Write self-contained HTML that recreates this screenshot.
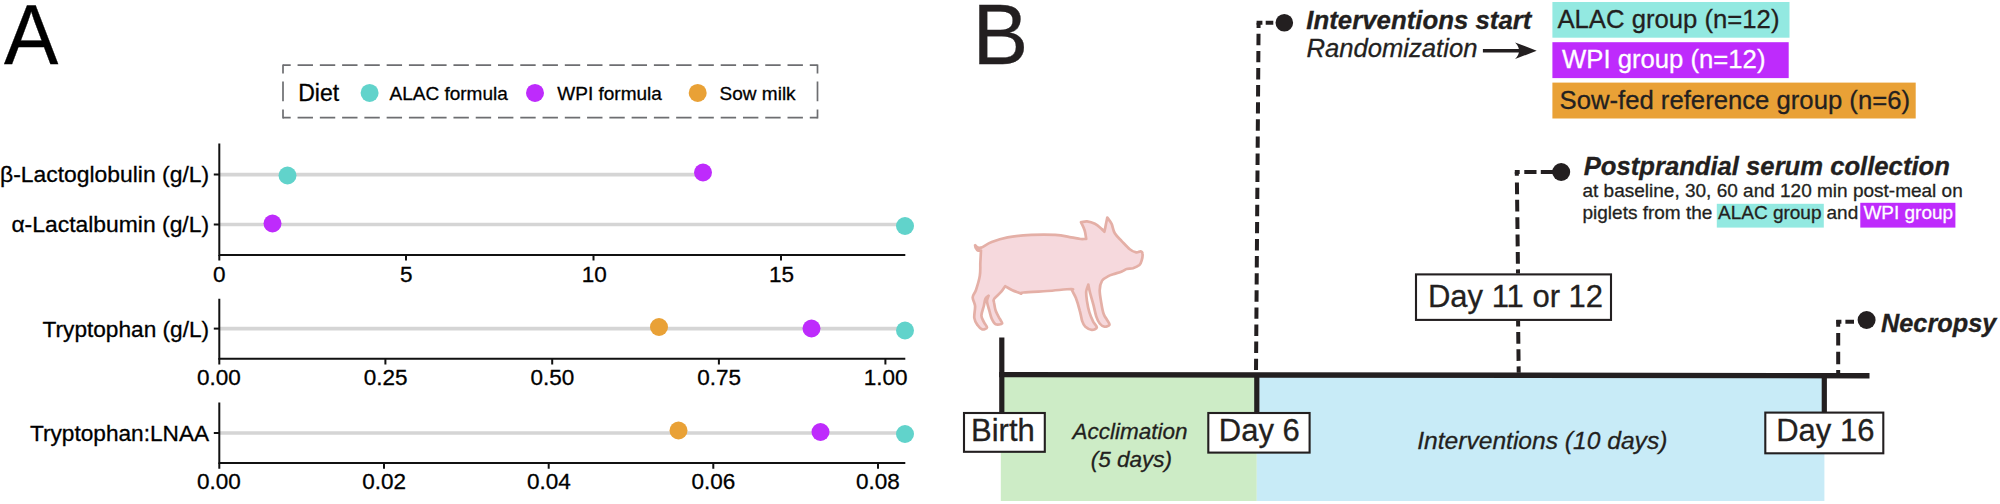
<!DOCTYPE html>
<html lang="en">
<head>
<meta charset="utf-8">
<title>Figure: diet composition and study design</title>
<style>
html,body{margin:0;padding:0;background:#fff;}
body{width:2000px;height:504px;overflow:hidden;}
svg{display:block;}
text{font-family:"Liberation Sans",Arial,Helvetica,sans-serif;fill:#231f20;stroke:#231f20;stroke-width:0.3px;}
#panelA text{fill:#000;stroke:#000;}
.w{fill:#fff !important;stroke:#fff !important;}
.it{font-style:italic;}
.bi{font-style:italic;font-weight:bold;}
.tick{font-size:22.5px;text-anchor:middle;}
.ylab{font-size:22.9px;text-anchor:end;}
.leg{font-size:19px;}
.ax{stroke:#111;stroke-width:2;fill:none;}
.seg{stroke:#d5d5d5;stroke-width:3.6;}
.dash{stroke:#231f20;stroke-width:4;fill:none;}
.box{fill:#fff;stroke:#231f20;stroke-width:2.1;}
.day{font-size:31px;text-anchor:middle;}
.lgb{stroke:#6d6e71;stroke-width:1.7;fill:none;}
</style>
</head>
<body>
<svg width="2000" height="504" viewBox="0 0 2000 504">
<rect width="2000" height="504" fill="#fff"/>

<!-- ===== PANEL A ===== -->
<g id="panelA">
<text transform="translate(4.1 64.2) scale(0.993 1.045)" font-size="82">A</text>

<!-- legend -->
<g id="legend">
<path class="lgb" d="M283 65.2H817.5" stroke-dasharray="15.4 6.87" stroke-dashoffset="7.7"/>
<path class="lgb" d="M283 117.7H817.5" stroke-dasharray="15.4 6.87" stroke-dashoffset="7.7"/>
<path class="lgb" d="M283 64.4V118.5" stroke-dasharray="9 8.2 19.7 8.2 9"/>
<path class="lgb" d="M817.5 64.4V118.5" stroke-dasharray="9 8.2 19.7 8.2 9"/>
<text x="298.2" y="100.5" font-size="23">Diet</text>
<circle cx="369.6" cy="92.9" r="9" fill="#61d3cb"/>
<text class="leg" x="389.5" y="99.5">ALAC formula</text>
<circle cx="535" cy="92.9" r="9" fill="#be2bfc"/>
<text class="leg" x="557.3" y="99.5">WPI formula</text>
<circle cx="697.7" cy="92.9" r="9" fill="#e9a136"/>
<text class="leg" x="719.6" y="99.5">Sow milk</text>
</g>

<!-- facet 1 -->
<line class="seg" x1="220" y1="174.6" x2="703" y2="174.6"/>
<line class="seg" x1="220" y1="224.5" x2="905" y2="224.5"/>
<path class="ax" d="M219.3 143.5V255.1H905.3"/>
<path class="ax" d="M213.8 174.6H219.3M213.8 224.5H219.3"/>
<path class="ax" d="M219.3 255V260.6M406 255V260.6M593.5 255V260.6M781 255V260.6"/>
<circle cx="287.5" cy="175.5" r="9" fill="#61d3cb"/>
<circle cx="703" cy="172.5" r="9" fill="#be2bfc"/>
<circle cx="272.5" cy="223.5" r="9" fill="#be2bfc"/>
<circle cx="905" cy="226" r="9" fill="#61d3cb"/>
<text class="ylab" x="209.1" y="182.3">β-Lactoglobulin (g/L)</text>
<text class="ylab" x="209.1" y="232">α-Lactalbumin (g/L)</text>
<text class="tick" x="219.3" y="281.8">0</text>
<text class="tick" x="406.2" y="281.8">5</text>
<text class="tick" x="594.2" y="281.8">10</text>
<text class="tick" x="781.4" y="281.8">15</text>

<!-- facet 2 -->
<line class="seg" x1="220" y1="328.6" x2="905" y2="328.6"/>
<path class="ax" d="M219.3 298.8V358.7H905.3"/>
<path class="ax" d="M213.8 328.6H219.3"/>
<path class="ax" d="M219.3 358V364.5M385.4 358V364.5M552.2 358V364.5M718.9 358V364.5M885.4 358V364.5"/>
<circle cx="659" cy="327" r="9" fill="#e9a136"/>
<circle cx="811.5" cy="328.5" r="9" fill="#be2bfc"/>
<circle cx="905" cy="330.5" r="9" fill="#61d3cb"/>
<text class="ylab" x="209.1" y="336.8" style="font-size:22.65px">Tryptophan (g/L)</text>
<text class="tick" x="219" y="385.3">0.00</text>
<text class="tick" x="385.6" y="385.3">0.25</text>
<text class="tick" x="552.5" y="385.3">0.50</text>
<text class="tick" x="719.2" y="385.3">0.75</text>
<text class="tick" x="885.7" y="385.3">1.00</text>

<!-- facet 3 -->
<line class="seg" x1="220" y1="433" x2="905" y2="433"/>
<path class="ax" d="M219.3 402.5V463H905.3"/>
<path class="ax" d="M213.8 433H219.3"/>
<path class="ax" d="M219.3 462.5V468.8M384 462.5V468.8M548.7 462.5V468.8M713.3 462.5V468.8M878 462.5V468.8"/>
<circle cx="678.5" cy="430.5" r="9" fill="#e9a136"/>
<circle cx="820.5" cy="432" r="9" fill="#be2bfc"/>
<circle cx="905" cy="434" r="9" fill="#61d3cb"/>
<text class="ylab" x="209.1" y="441" style="font-size:22.65px">Tryptophan:LNAA</text>
<text class="tick" x="219" y="489.3">0.00</text>
<text class="tick" x="384.2" y="489.3">0.02</text>
<text class="tick" x="548.8" y="489.3">0.04</text>
<text class="tick" x="713.4" y="489.3">0.06</text>
<text class="tick" x="878" y="489.3">0.08</text>
</g>

<!-- ===== PANEL B ===== -->
<g id="panelB">
<text transform="translate(972.4 63.8) scale(1.02 1.04)" font-size="82">B</text>

<!-- phases -->
<rect x="1000.8" y="375" width="256" height="126" fill="#cdecc6"/>
<rect x="1256.8" y="375" width="567.6" height="126" fill="#c8ebf7"/>
<text class="it" x="1130" y="439" font-size="22.5" text-anchor="middle">Acclimation</text>
<text class="it" x="1131.3" y="466.6" font-size="22.5" text-anchor="middle">(5 days)</text>
<text class="it" x="1542.3" y="448.7" font-size="24.6" text-anchor="middle">Interventions (10 days)</text>

<!-- timeline -->
<path d="M999.2 374.6L1869.5 375.7" stroke="#231f20" stroke-width="5.4" fill="none"/>
<path d="M1001.8 337.5V413M1256.8 375V413M1824.3 375V413" stroke="#231f20" stroke-width="5.2" fill="none"/>

<!-- dashed connectors -->
<path class="dash" d="M1258.6 22.7L1256 372.5" stroke-dasharray="11.4 5.7" stroke-dashoffset="6"/>
<path class="dash" d="M1256.6 22.7H1284" stroke-dasharray="5.8 3.3 7.6 100"/>
<path class="dash" d="M1516.8 171.9L1518 273.4" stroke-dasharray="3.9 6.6 11.8 5.6 11.8 5.6 11.8 5.6 11.8 5.6 11.8 5.6 11.8 5.6"/>
<path class="dash" d="M1518.1 320.9L1518.7 372.7" stroke-dasharray="11.7 5.5" stroke-dashoffset="6.1"/>
<path class="dash" d="M1514.8 171.9H1561" stroke-dasharray="4.9 4.6 12.2 4.3 100"/>
<path class="dash" d="M1838.2 319.9V373" stroke-width="3.6" stroke-dasharray="6.9 6.2 12.5 6.3 12.5 5.7 10"/>
<path class="dash" d="M1836.4 321.8H1854" stroke-width="3.6" stroke-dasharray="5 4 8.6 100"/>
<circle cx="1284.3" cy="22.7" r="8.8" fill="#231f20"/>
<circle cx="1561.2" cy="172" r="9" fill="#231f20"/>
<circle cx="1866.6" cy="320" r="9" fill="#231f20"/>

<!-- day boxes -->
<rect class="box" x="964" y="413" width="80.8" height="38.8"/>
<text class="day" x="1002.9" y="440.8">Birth</text>
<rect class="box" x="1208.3" y="413" width="101.3" height="39.6"/>
<text class="day" x="1259.3" y="441.2">Day 6</text>
<rect class="box" x="1416" y="274.4" width="195" height="45.5"/>
<text class="day" x="1515.5" y="307.2">Day 11 or 12</text>
<rect class="box" x="1765.3" y="412.6" width="118" height="40.7"/>
<text class="day" x="1825.3" y="441">Day 16</text>

<!-- interventions start -->
<text class="bi" x="1306.3" y="28.7" font-size="25.8">Interventions start</text>
<text class="it" x="1306.4" y="56.7" font-size="25.65">Randomization</text>
<path d="M1482.9 50.7H1522" stroke="#231f20" stroke-width="3.5" fill="none"/>
<path d="M1536.7 50.7L1515.1 42.4Q1523 50.7 1515.1 59.1Z" fill="#231f20"/>

<!-- groups -->
<rect x="1552.4" y="2" width="237.1" height="35.7" fill="#93e9e1"/>
<text x="1557.4" y="28.4" font-size="25.7">ALAC group (n=12)</text>
<rect x="1552.4" y="42.2" width="236.3" height="35.9" fill="#be2bfc"/>
<text x="1562" y="67.9" font-size="25.7" class="w">WPI group (n=12)</text>
<rect x="1552.4" y="82.6" width="363.3" height="35.9" fill="#e9a136"/>
<text x="1559.5" y="108.7" font-size="25.7">Sow-fed reference group (n=6)</text>

<!-- postprandial -->
<text class="bi" x="1583.7" y="174.7" font-size="25.65">Postprandial serum collection</text>
<text x="1582.5" y="196.7" font-size="19">at baseline, 30, 60 and 120 min post-meal on</text>
<rect x="1716.8" y="203.8" width="107" height="23.8" fill="#93e9e1"/>
<rect x="1860.3" y="202.8" width="95.1" height="24.8" fill="#be2bfc"/>
<text x="1582.5" y="219.2" font-size="19">piglets from the <tspan x="1718">ALAC group</tspan> <tspan x="1826.5">and</tspan> <tspan x="1863.4" class="w">WPI group</tspan></text>

<!-- necropsy -->
<text class="bi" x="1881" y="331.8" font-size="25.3">Necropsy</text>

<!-- piglet -->
<g id="pig">
<path d="M981.4 247.6C984.9 245.8 987.4 243.8 991.7 242.1C996.1 240.3 1001.0 238.5 1007.6 237.3C1014.2 236.1 1023.5 235.3 1031.4 234.9C1039.4 234.5 1048.6 234.5 1055.2 234.9C1061.9 235.3 1066.9 236.6 1071.1 237.3C1075.3 238.0 1078.1 238.8 1080.6 239.0C1083.1 239.3 1084.3 238.9 1086.2 238.9C1085.7 236.0 1085.5 232.9 1084.6 230.2C1083.7 227.4 1082.2 224.9 1081.0 222.2C1083.0 222.0 1084.7 221.2 1087.0 221.4C1089.3 221.7 1092.5 222.6 1094.9 223.8C1097.3 225.0 1099.7 227.2 1101.3 228.6C1102.9 229.9 1103.4 230.7 1104.4 231.7C1105.0 229.1 1105.6 226.2 1106.0 223.8C1106.5 221.4 1106.9 219.6 1107.3 217.5C1108.7 219.6 1110.3 221.2 1111.6 223.8C1112.8 226.5 1113.0 230.4 1114.8 233.3C1116.5 236.2 1119.4 238.6 1121.9 241.3C1124.4 243.9 1127.5 247.4 1129.8 249.2C1132.2 251.1 1134.4 252.0 1136.2 252.4C1138.0 252.8 1139.6 251.2 1140.6 251.4C1141.7 251.6 1142.4 252.2 1142.5 253.7C1142.7 255.1 1142.3 258.4 1141.7 260.3C1141.2 262.2 1140.8 263.8 1139.4 265.1C1137.9 266.4 1135.1 267.6 1133.0 268.3C1130.9 268.9 1128.5 268.5 1126.7 269.0C1124.8 269.6 1124.2 270.6 1121.9 271.4C1119.7 272.3 1115.4 273.5 1113.2 274.3C1110.9 275.1 1110.3 275.1 1108.4 276.2C1106.6 277.2 1103.5 278.3 1102.1 280.6C1100.6 283.0 1099.8 286.5 1099.7 290.2C1099.6 293.9 1100.6 298.9 1101.3 302.9C1101.9 306.8 1102.7 311.2 1103.7 314.0C1104.6 316.7 1105.8 317.7 1106.8 319.5C1107.8 321.3 1109.9 323.6 1109.5 324.8C1109.1 326.0 1106.1 326.9 1104.4 326.7C1102.8 326.5 1101.0 325.1 1099.7 323.5C1098.4 321.9 1097.6 320.3 1096.5 317.1C1095.4 314.0 1094.4 308.4 1093.3 304.4C1092.3 300.5 1091.0 296.6 1090.2 293.3C1089.3 290.0 1088.9 287.5 1088.3 284.6C1087.6 287.0 1086.4 289.0 1086.2 291.7C1086.0 294.5 1086.5 297.8 1087.0 301.3C1087.5 304.7 1088.3 308.9 1089.4 312.4C1090.4 315.8 1092.1 319.4 1093.3 321.9C1094.6 324.4 1097.1 326.1 1096.8 327.5C1096.6 328.8 1093.7 330.0 1091.7 329.8C1089.8 329.7 1087.0 328.1 1085.4 326.7C1083.8 325.2 1083.1 323.8 1082.2 321.1C1081.3 318.5 1080.9 314.6 1079.8 310.8C1078.8 307.0 1077.2 301.5 1075.9 298.1C1074.6 294.7 1073.2 292.8 1071.9 290.2C1071.6 289.8 1075.2 288.9 1071.1 289.0C1067.0 289.2 1055.2 290.4 1047.3 291.0C1039.4 291.5 1027.9 292.1 1023.5 292.5C1019.1 293.0 1021.9 293.3 1021.1 293.7C1018.2 292.5 1015.0 291.4 1012.4 290.2C1009.7 288.9 1007.6 287.5 1005.2 286.2C1003.9 288.0 1003.1 289.6 1001.3 291.7C999.4 293.9 995.3 297.0 994.1 298.9C992.9 300.7 993.9 300.9 994.1 302.9C994.4 304.8 994.8 308.1 995.7 310.8C996.6 313.4 998.6 316.6 999.7 318.7C1000.7 320.8 1002.7 322.6 1002.1 323.5C1001.4 324.4 997.4 325.1 995.7 324.3C994.0 323.5 992.8 321.0 991.7 318.7C990.7 316.5 990.2 313.7 989.4 310.8C988.6 307.9 987.1 303.8 987.0 301.3C986.9 298.8 988.0 297.6 988.6 295.7C987.5 296.8 986.2 297.2 985.4 298.9C984.6 300.6 984.5 303.3 983.8 306.0C983.1 308.8 981.4 312.9 981.4 315.6C981.4 318.2 982.9 319.9 983.8 321.9C984.7 323.9 987.2 326.2 987.0 327.5C986.7 328.7 983.8 329.8 982.2 329.4C980.6 329.0 978.8 327.0 977.5 325.1C976.1 323.2 974.7 321.1 974.3 317.9C973.9 314.8 975.3 309.5 975.1 306.0C974.8 302.6 972.6 299.9 972.7 297.3C972.8 294.7 974.7 293.7 975.9 290.2C977.1 286.6 979.1 280.3 979.8 275.9C980.6 271.4 980.2 267.1 980.3 263.5C980.5 259.8 980.7 256.1 980.8 254.0C980.9 251.8 980.9 251.6 981.0 250.5C979.9 250.5 978.8 250.9 977.9 250.5C977.1 250.1 976.2 248.8 975.7 247.9C975.2 247.1 975.3 246.1 975.1 245.2C975.7 245.8 976.2 246.6 976.8 247.0C977.5 247.4 978.3 247.7 979.0 247.8C979.8 247.9 980.6 247.7 981.4 247.6Z" fill="#f6d9dd" stroke="#e4afa6" stroke-width="2.7" stroke-linejoin="round"/>
</g>
</g>
</svg>
</body>
</html>
